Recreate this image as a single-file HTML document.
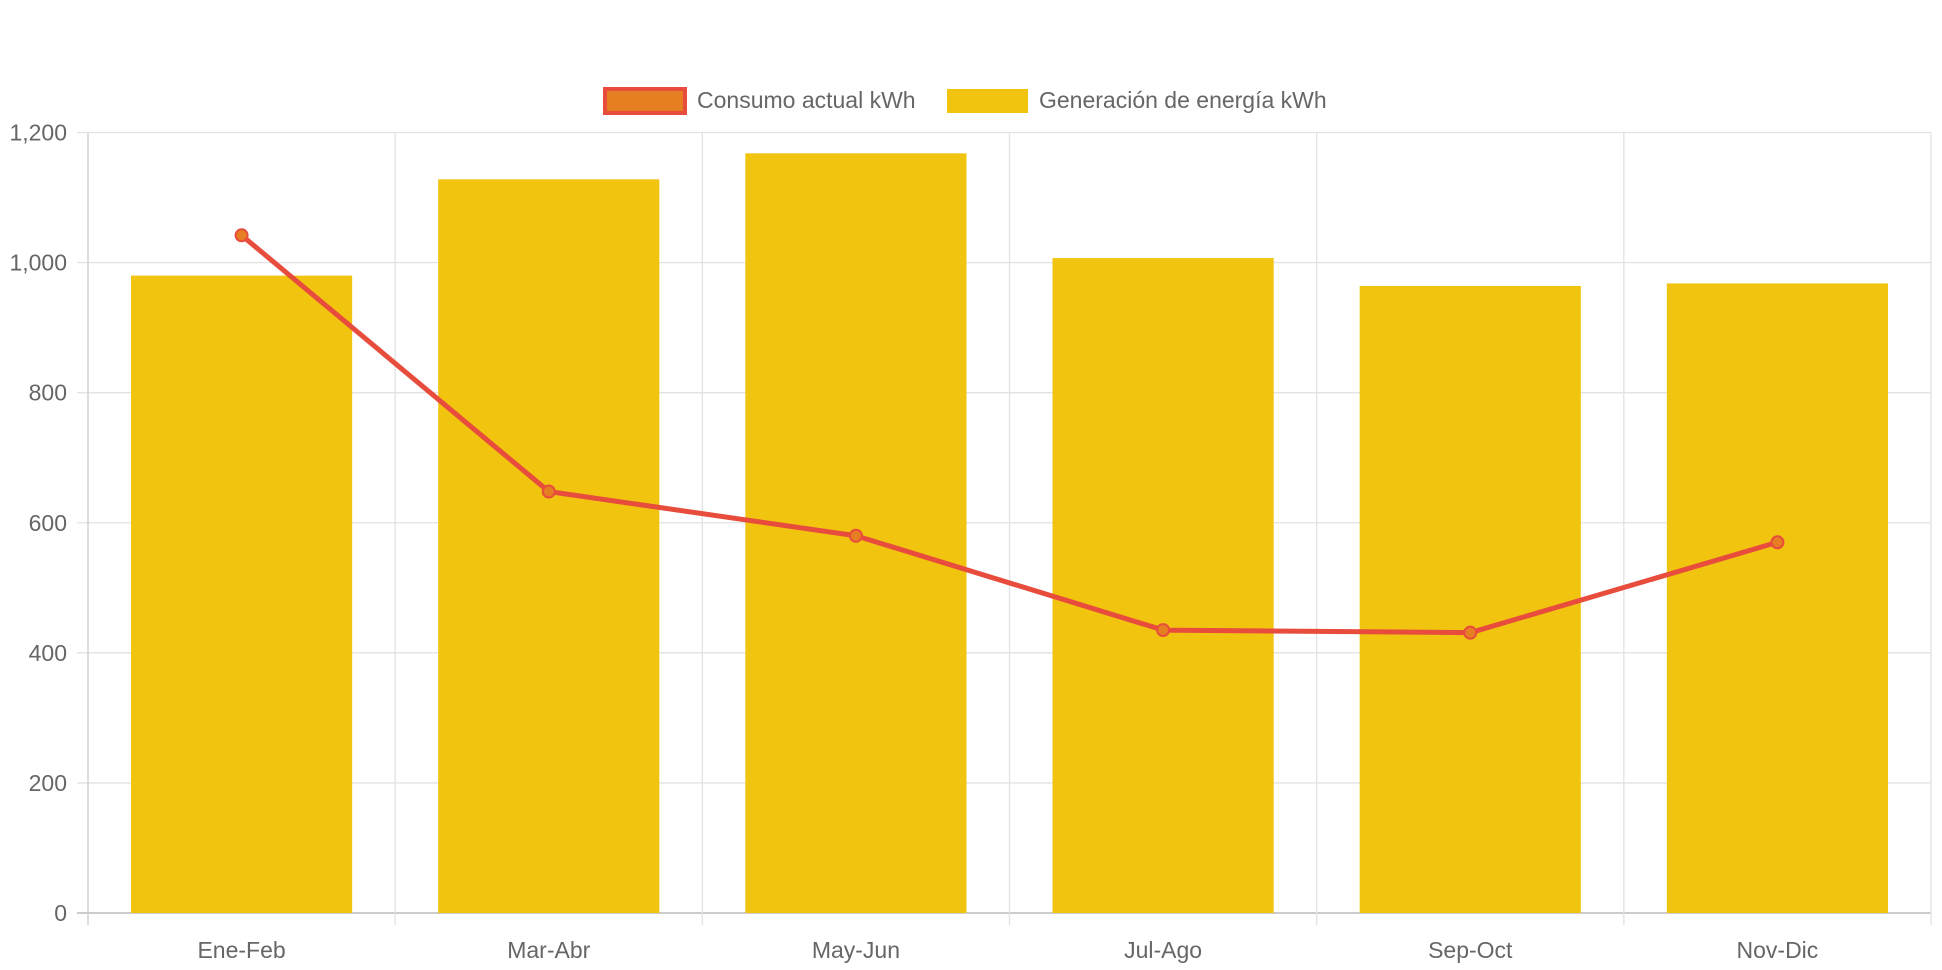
<!DOCTYPE html>
<html><head><meta charset="utf-8"><style>
html,body{margin:0;padding:0;background:#fff;}
svg{display:block;font-family:"Liberation Sans",sans-serif;}
</style></head><body>
<svg id="chart" width="1942" height="970" viewBox="0 0 1942 970" xmlns="http://www.w3.org/2000/svg">
<g id="legend">
<g>
<rect x="605" y="89" width="80" height="24" fill="#E67E22" stroke="#E74C3C" stroke-width="4"/>
<text x="697" y="108" font-size="23" fill="#666">Consumo actual kWh</text>
</g>
<g>
<rect x="947" y="89" width="81" height="24" fill="#F1C40F"/>
<text x="1039" y="108" font-size="23" fill="#666">Generación de energía kWh</text>
</g>
</g>
<g id="grid"></g>
<g id="bars"></g>
<g id="line"></g>
<g id="axes"></g>
</svg>
<script>
const categories = ["Ene-Feb","Mar-Abr","May-Jun","Jul-Ago","Sep-Oct","Nov-Dic"];
const generacion = [980,1128,1168,1007,964,968];
const consumo = [1042,648,580,435,431,570];
const yTicks = [0,200,400,600,800,1000,1200];
const yTickLabels = ["0","200","400","600","800","1,000","1,200"];

const NS="http://www.w3.org/2000/svg";
const L=88,R=1931,T=132.5,B=913,YMAX=1200;
const band=(R-L)/categories.length;
function x(i){return L+band*(i+0.5);}
function y(v){return B-(v/YMAX)*(B-T);}
function mk(tag,attrs,parent){const e=document.createElementNS(NS,tag);for(const k in attrs)e.setAttribute(k,attrs[k]);parent.appendChild(e);return e;}
const grid=document.getElementById('grid'),bars=document.getElementById('bars'),line=document.getElementById('line'),axes=document.getElementById('axes');
yTicks.forEach((t,i)=>{
  const g=mk('line',{x1:77,x2:R,y1:y(t),y2:y(t),stroke:t===0?'#ccc':'#e2e2e2','stroke-width':t===0?2:1.3},grid);
  
  
  const tx=mk('text',{x:67,y:y(t)+8,'text-anchor':'end','font-size':23,fill:'#666'},axes);
  tx.textContent=yTickLabels[i];
  
  
});
for(let i=0;i<=categories.length;i++){
  const xx=L+band*i;
  const g=mk('line',{x1:xx,x2:xx,y1:T,y2:925,stroke:i===0?'#ccc':'#e2e2e2','stroke-width':1.3},grid);
  
  
}
categories.forEach((c,i)=>{
  const bw=band*0.72;
  const r=mk('rect',{x:x(i)-bw/2,y:y(generacion[i]),width:bw,height:B-y(generacion[i]),fill:'#F1C40F'},bars);
  
  
  const tx=mk('text',{x:x(i),y:958,'text-anchor':'middle','font-size':23,fill:'#666'},axes);
  tx.textContent=c;
  
  
});
const pts=consumo.map((v,i)=>x(i)+','+y(v)).join(' ');
const pl=mk('polyline',{points:pts,fill:'none',stroke:'#E74C3C','stroke-width':5,'stroke-linejoin':'round'},line);


consumo.forEach((v,i)=>{
  const c=mk('circle',{cx:x(i),cy:y(v),r:6,fill:'#E67E22',stroke:'#E74C3C','stroke-width':2},line);
  
  
});
</script>
</body></html>
